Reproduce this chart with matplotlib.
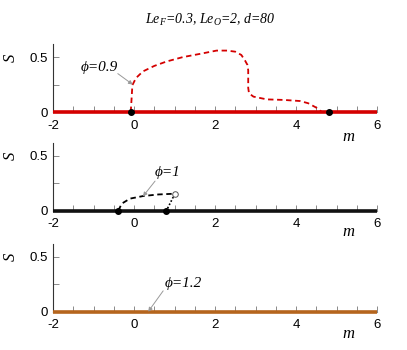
import matplotlib
matplotlib.use("Agg")
import matplotlib.pyplot as plt
from matplotlib.ticker import MultipleLocator

plt.rcParams["mathtext.fontset"] = "custom"
plt.rcParams["mathtext.rm"] = "Liberation Serif:italic"
plt.rcParams["mathtext.it"] = "Liberation Serif:italic"
plt.rcParams["axes.unicode_minus"] = False

# phi = 0.9 branch (red)
m_09 = [-0.08, -0.06, -0.04, 0.05, 0.22, 0.5, 0.8, 1.2, 1.63, 2.04, 2.3, 2.5, 2.65, 2.74, 2.8, 2.82, 2.82, 2.84, 2.95, 3.28, 3.7, 4.1, 4.3, 4.5, 4.64]
s_09 = [0.0, 0.12, 0.245, 0.31, 0.37, 0.42, 0.46, 0.50, 0.53, 0.56, 0.56, 0.55, 0.52, 0.47, 0.43, 0.38, 0.22, 0.17, 0.14, 0.115, 0.11, 0.10, 0.08, 0.04, 0.0]
dots_09 = [-0.08, 4.82]

# phi = 1 branch (black)
m_10 = [-0.39, -0.3, -0.1, 0.23, 0.6, 1.01]
s_10 = [0.0, 0.065, 0.11, 0.134, 0.148, 0.155]
m_10b = [1.01, 0.80]
s_10b = [0.155, 0.0]
dots_10 = [-0.39, 0.80]

x_range = [-2, 6]

panels = [
    dict(bottom=1 - 112 / 350, color="#d40000"),
    dict(bottom=1 - 210.7 / 350, color="#111111"),
    dict(bottom=1 - 311.7 / 350, color="#b5651d"),
]

serif = "Liberation Serif"
sans = "Liberation Sans"

fig = plt.figure(figsize=(4.07, 3.5), dpi=100)

axes = []
for p in panels:
    ax = fig.add_axes([53 / 407, p["bottom"], 324 / 407, 68 / 350])
    ax.set_xlim(-2, 6)
    ax.set_ylim(0, 0.62)
    ax.spines["top"].set_visible(False)
    ax.spines["right"].set_visible(False)
    ax.spines["left"].set_color("#333333")
    ax.spines["left"].set_linewidth(0.8)
    ax.spines["bottom"].set_color("#888888")
    ax.xaxis.set_major_locator(MultipleLocator(2))
    ax.xaxis.set_minor_locator(MultipleLocator(0.5))
    ax.yaxis.set_minor_locator(MultipleLocator(0.25))
    ax.set_yticks([0, 0.5])
    ax.set_yticklabels(["0", "0.5"])
    ax.tick_params(which="both", direction="in", length=4, width=0.6, color="#777777",
                   labelsize=9.5)
    ax.tick_params(axis="x", pad=5.5)
    ax.tick_params(axis="y", pad=4)
    for t in ax.get_xticklabels() + ax.get_yticklabels():
        t.set_fontfamily(sans)
    ax.set_ylabel("S", fontfamily=serif, fontstyle="italic", fontsize=12, rotation=90)
    ax.yaxis.set_label_coords(-0.105, 0.8)
    # zero branch
    ax.plot(x_range, [0, 0], color=p["color"], lw=2.6, solid_capstyle="butt",
            clip_on=False, zorder=3)
    axes.append(ax)

ax1, ax2, ax3 = axes

ax1.plot(m_09, s_09, color="#d40000", lw=1.3, ls=(0, (3, 2)), zorder=4)
ax1.plot(dots_09, [0, 0], "o", color="black", ms=4, clip_on=False, zorder=5)

ax2.plot(m_10, s_10, color="black", lw=1.3, ls=(0, (3, 2)), zorder=4)
ax2.plot(m_10b, s_10b, color="black", lw=1.2, ls=(0, (1, 1.2)), zorder=4)
ax2.plot([1.01], [0.155], "o", mfc="white", mec="#555555", ms=4, mew=0.7, zorder=5)
ax2.plot(dots_10, [0, 0], "o", color="black", ms=4, clip_on=False, zorder=5)

arrow = dict(arrowstyle="-|>", color="#999999", lw=0.7, mutation_scale=6,
             shrinkA=0, shrinkB=0)
labels = [
    (ax1, "\u03d5=0.9", (-0.85, 0.41), (-0.4, 0.35), (-0.03, 0.25)),
    (ax2, "\u03d5=1", (0.84, 0.35), (0.52, 0.27), (0.22, 0.13)),
    (ax3, "\u03d5=1.2", (1.21, 0.26), (0.72, 0.19), (0.35, 0.0)),
]
for ax, txt, pos, tail, head in labels:
    ax.text(pos[0], pos[1], txt, fontfamily=serif, fontstyle="italic", fontsize=11,
            ha="center", va="center")
    ax.annotate("", xy=head, xytext=tail, arrowprops=arrow, zorder=6)

for ypix in [137, 232, 334]:
    fig.text(348 / 407, 1 - ypix / 350, "m", fontfamily=serif, fontstyle="italic",
             fontsize=12, ha="center", va="center")

fig.text(210 / 407, 1 - 20 / 350, "Le$_F$=0.3, Le$_O$=2, d=80",
         fontfamily=serif, fontstyle="italic", fontsize=10, ha="center", va="center")

fig.savefig("out.png", dpi=100)
